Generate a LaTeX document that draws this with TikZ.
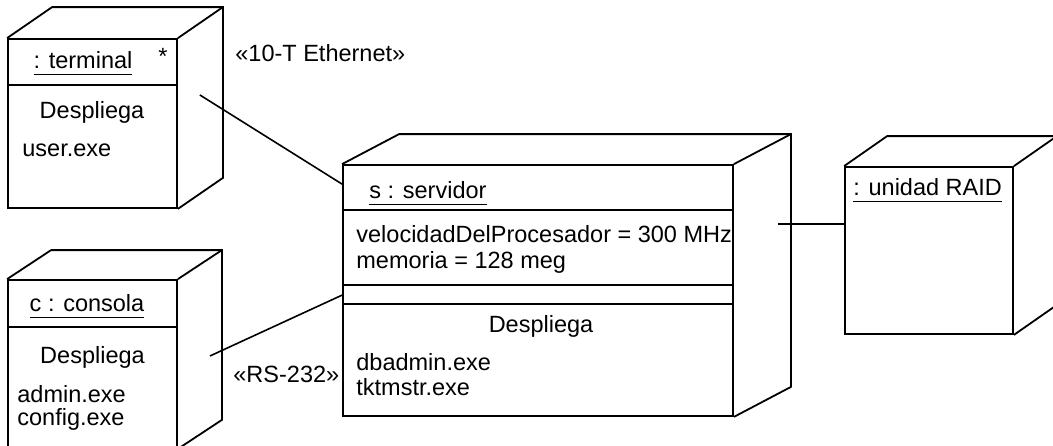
\documentclass[tikz,border=0pt]{standalone}
\usepackage{fontspec}
\setmainfont{Liberation Sans}
\usetikzlibrary{calc,positioning}
% subrayado algo mas grueso que \underline
\newcommand{\subr}[1]{\setbox0\hbox{#1}\rlap{\rule[-3.6pt]{\wd0}{0.7pt}}\box0}
% caras de atras de un nodo cubo
\newcommand{\fondo}[3]{%
  \draw[borde] (#1.north west) -- ++(#2,#3) -- ($(#1.north east)+(#2,#3)$)
    -- ($(#1.south east)+(#2,#3)$) -- (#1.south east);
  \draw[borde] (#1.north east) -- ++(#2,#3);}

\begin{document}
\begin{tikzpicture}[x=0.5pt,y=0.5pt,font=\fontsize{11.75}{13}\selectfont,
  nodo/.style={draw,line width=0.9pt,inner sep=0pt,fill=white},
  borde/.style={line width=0.9pt},
  enlace/.style={line width=0.8pt},
  izq/.style={anchor=base west,inner sep=0pt},
  cen/.style={anchor=base,inner sep=0pt}]
\clip (0,0) rectangle (1053,-445);
% caras frontales
\node[nodo,minimum width=84.5pt,minimum height=84.5pt] (terminal) at (92.5,-123.5) {};
\node[nodo,minimum width=84.5pt,minimum height=84pt] (consola) at (92.5,-364) {};
\node[nodo,minimum width=195pt,minimum height=125.5pt] (servidor) at (538,-290.5) {};
\node[nodo,minimum width=84pt,minimum height=83.5pt] (raid) at (929,-250.5) {};
\fondo{terminal}{45}{31}
\fondo{consola}{44}{29}
\fondo{servidor}{57}{30}
\fondo{raid}{43}{30}
% compartimientos
\draw[borde] ($(terminal.north west)+(0,-47)$) -- ($(terminal.north east)+(0,-47)$);
\draw[borde] ($(consola.north west)+(0,-48)$) -- ($(consola.north east)+(0,-48)$);
\foreach \d in {46,121,140}
  \draw[borde] ($(servidor.north west)+(0,-\d)$) -- ($(servidor.north east)+(0,-\d)$);
% textos
\node[cen] (t-nom) at (83,-68) {\subr{: terminal}};
\node[cen] (t-mult) at (163,-64) {*};
\node[cen] (t-desp) at (92,-118) {Despliega};
\node[izq] (t-exe) at (22,-156) {user.exe};
\node[cen] (c-nom) at (87,-311) {\subr{c : consola}};
\node[cen] (c-desp) at (92.5,-363) {Despliega};
\node[izq] (c-exe1) at (17,-402) {admin.exe};
\node[izq] (c-exe2) at (17,-425) {config.exe};
\node[izq] (s-nom) at (369,-198) {\subr{s : servidor}};
\node[izq] (s-at1) at (356,-242) {velocidadDelProcesador = 300 MHz};
\node[izq] (s-at2) at (356,-268) {memoria = 128 meg};
\node[cen] (s-desp) at (541,-332) {Despliega};
\node[izq] (s-exe1) at (356,-370) {dbadmin.exe};
\node[izq] (s-exe2) at (356,-395) {tktmstr.exe};
\node[izq] (r-nom) at (853,-195) {\subr{: unidad RAID}};
% conexiones
\coordinate (t-sal) at ($(terminal.east)+(22,28.5)$);
\coordinate (c-sal) at ($(consola.east)+(32,8)$);
\coordinate (s-sal) at ($(servidor.east)+(44,66.5)$);
\draw[enlace] (t-sal) -- ($(servidor.north west)+(0,-20)$);
\draw[enlace] (c-sal) -- ($(servidor.north west)+(0,-131)$);
\draw[enlace] (s-sal) -- (s-sal -| raid.west);
\node[izq] (eth) at (235,-61) {«10-T Ethernet»};
\node[izq] (rs) at (233,-382) {«RS-232»};
\end{tikzpicture}
\end{document}
